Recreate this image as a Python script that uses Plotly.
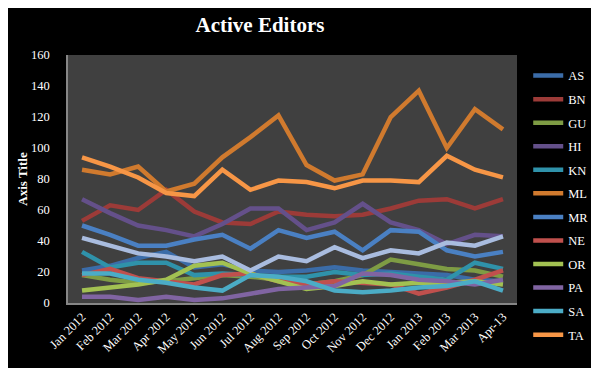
import plotly.graph_objects as go

months = ["Jan 2012", "Feb 2012", "Mar 2012", "Apr 2012", "May 2012", "Jun 2012",
          "Jul 2012", "Aug 2012", "Sep 2012", "Oct 2012", "Nov 2012", "Dec 2012",
          "Jan 2013", "Feb 2013", "Mar 2013", "Apr-13"]

AS = [21, 24, 29, 33, 23, 25, 21, 20, 21, 23, 21, 20, 19, 18, 15, 14]
BN = [53, 63, 60, 73, 59, 52, 51, 59, 57, 56, 57, 61, 66, 67, 61, 67]
GU = [18, 15, 13, 14, 16, 18, 17, 15, 12, 14, 18, 28, 25, 22, 21, 17]
HI = [67, 58, 50, 47, 43, 51, 61, 61, 47, 52, 64, 52, 47, 38, 44, 43]
KN = [33, 23, 26, 26, 18, 19, 18, 17, 17, 20, 18, 19, 17, 15, 26, 22]
ML = [86, 83, 88, 72, 77, 94, 107, 121, 89, 79, 83, 120, 137, 100, 125, 112]
MR = [50, 44, 37, 37, 41, 44, 35, 47, 42, 46, 34, 47, 46, 34, 30, 33]
NE = [18, 22, 16, 14, 12, 18, 19, 14, 12, 14, 13, 12, 6, 10, 15, 21]
OR = [8, 10, 12, 15, 24, 26, 19, 14, 9, 11, 14, 12, 13, 13, 14, 12]
PA = [4, 4, 2, 4, 2, 3, 6, 9, 10, 11, 19, 18, 15, 14, 12, 15]
SA = [19, 19, 15, 13, 10, 8, 18, 17, 14, 8, 7, 8, 10, 11, 14, 8]
TA = [94, 88, 81, 71, 69, 86, 73, 79, 78, 74, 79, 79, 78, 95, 86, 81]
TE = [42, 37, 32, 30, 27, 30, 21, 30, 27, 36, 29, 34, 32, 39, 37, 43]

series_names = ["AS", "BN", "GU", "HI", "KN", "ML", "MR", "NE", "OR", "PA", "SA", "TA", "TE"]
series_values = [AS, BN, GU, HI, KN, ML, MR, NE, OR, PA, SA, TA, TE]
series_colors = ["#3B6CA8", "#9C3B38", "#7E9C44", "#64508A", "#2F92AA", "#D07A2E",
                 "#4A80C3", "#C0504D", "#A2C152", "#8064A2", "#4BACC6", "#F79646", "#A9BCDF"]

SERIF = "Liberation Serif"

fig = go.Figure()
for name, vals, col in zip(series_names, series_values, series_colors):
    fig.add_trace(go.Scatter(
        x=months, y=vals, name=name, mode="lines",
        line=dict(color=col, width=4.5),
        legendgroup=name,
        showlegend=(name != "TE"),
    ))

# page body has an 8px margin, so the figure is 591x360 placed at (8, 8)
fig.update_layout(
    width=591, height=360,
    paper_bgcolor="#000000",
    plot_bgcolor="#404040",
    margin=dict(l=60, r=82, t=47, b=65, autoexpand=False),
    title=dict(text="<b>Active Editors</b>", x=(252 - 60) / 449, xref="paper", xanchor="center",
               y=1 - 17 / 360, yanchor="middle",
               font=dict(family=SERIF, size=21, color="#FFFFFF")),
    font=dict(family=SERIF, color="#FFFFFF"),
    showlegend=True,
    legend=dict(
        x=1.025, xanchor="left", y=0.976, yanchor="top",
        font=dict(family=SERIF, size=12.5, color="#FFFFFF"),
        bgcolor="rgba(0,0,0,0)",
        tracegroupgap=4.3,
        traceorder="grouped",
        maxheight=360,
    ),
)

fig.update_xaxes(
    type="category",
    range=[-0.5, 15.5],
    showgrid=False, zeroline=False,
    showline=True, linecolor="#868686", linewidth=1.5,
    tickangle=-45,
    tickfont=dict(family=SERIF, size=12.5, color="#FFFFFF"),
    ticks="",
)
fig.update_yaxes(
    range=[0, 160], dtick=20,
    showgrid=False, zeroline=False,
    showline=True, linecolor="#868686", linewidth=1.5,
    tickfont=dict(family=SERIF, size=12.5, color="#FFFFFF"),
    ticks="outside", ticklen=14, tickcolor="rgba(0,0,0,0)",
    title=dict(text="<b>Axis Title</b>", font=dict(family=SERIF, size=13, color="#FFFFFF"),
               standoff=0),
)

fig.write_html("out.html")
